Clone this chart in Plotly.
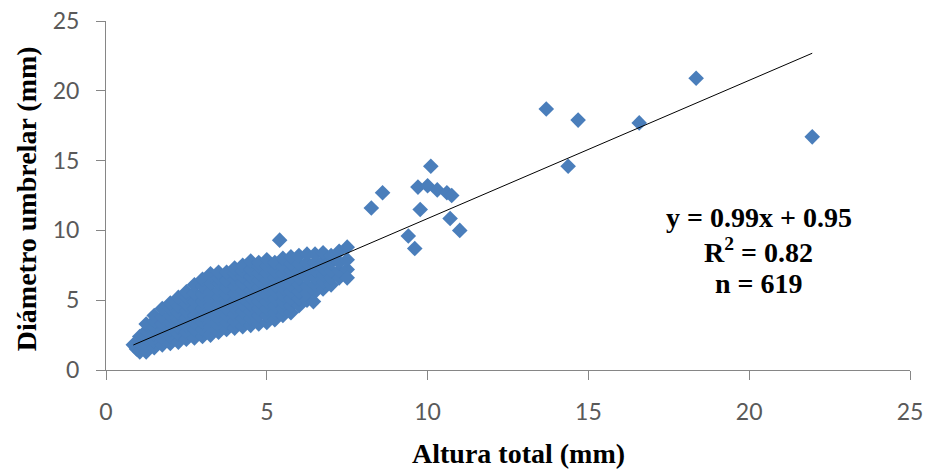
import plotly.graph_objects as go

# Dense cloud (representative points)
cloud_x = [
    0.85, 0.95,
    1.05, 1.05, 1.05,
    1.25, 1.25, 1.25, 1.25, 1.25,
    1.5, 1.5, 1.5, 1.5, 1.5, 1.5,
    1.75, 1.75, 1.75, 1.75, 1.75, 1.75,
    2.0, 2.0, 2.0, 2.0, 2.0, 2.0, 2.0,
    2.25, 2.25, 2.25, 2.25, 2.25, 2.25, 2.25,
    2.5, 2.5, 2.5, 2.5, 2.5, 2.5, 2.5, 2.5,
    2.75, 2.75, 2.75, 2.75, 2.75, 2.75, 2.75, 2.75,
    3.0, 3.0, 3.0, 3.0, 3.0, 3.0, 3.0, 3.0, 3.0,
    3.25, 3.25, 3.25, 3.25, 3.25, 3.25, 3.25, 3.25, 3.25,
    3.5, 3.5, 3.5, 3.5, 3.5, 3.5, 3.5, 3.5, 3.5, 3.5,
    3.75, 3.75, 3.75, 3.75, 3.75, 3.75, 3.75, 3.75, 3.75,
    4.0, 4.0, 4.0, 4.0, 4.0, 4.0, 4.0, 4.0, 4.0, 4.0,
    4.25, 4.25, 4.25, 4.25, 4.25, 4.25, 4.25, 4.25, 4.25, 4.25,
    4.5, 4.5, 4.5, 4.5, 4.5, 4.5, 4.5, 4.5, 4.5, 4.5,
    4.75, 4.75, 4.75, 4.75, 4.75, 4.75, 4.75, 4.75, 4.75, 4.75,
    5.0, 5.0, 5.0, 5.0, 5.0, 5.0, 5.0, 5.0, 5.0, 5.0,
    5.25, 5.25, 5.25, 5.25, 5.25, 5.25, 5.25, 5.25, 5.25,
    5.5, 5.5, 5.5, 5.5, 5.5, 5.5, 5.5, 5.5, 5.5,
    5.75, 5.75, 5.75, 5.75, 5.75, 5.75, 5.75, 5.75, 5.75,
    6.0, 6.0, 6.0, 6.0, 6.0, 6.0, 6.0, 6.0,
    6.25, 6.25, 6.25, 6.25, 6.25, 6.25, 6.25,
    6.5, 6.5, 6.5, 6.5, 6.5, 6.5,
    6.75, 6.75, 6.75, 6.75, 6.75, 6.75,
    7.0, 7.0, 7.0, 7.0, 7.0,
    7.25, 7.25, 7.25, 7.25,
    7.5, 7.5, 7.5,
]
cloud_y = [
    1.8, 1.5,
    1.3, 1.9, 2.4,
    1.3, 1.8, 2.3, 2.8, 3.3,
    1.6, 2.1, 2.6, 3.1, 3.5, 3.9,
    1.8, 2.3, 2.8, 3.3, 3.8, 4.4,
    1.9, 2.4, 2.9, 3.4, 3.9, 4.4, 4.8,
    2.0, 2.6, 3.1, 3.6, 4.1, 4.6, 5.2,
    2.2, 2.7, 3.2, 3.7, 4.2, 4.7, 5.2, 5.6,
    2.3, 2.9, 3.4, 3.9, 4.4, 4.9, 5.5, 6.1,
    2.4, 2.9, 3.4, 3.9, 4.4, 4.9, 5.4, 6.0, 6.5,
    2.5, 3.1, 3.6, 4.1, 4.6, 5.1, 5.6, 6.2, 6.9,
    2.7, 3.2, 3.7, 4.2, 4.7, 5.2, 5.7, 6.2, 6.6, 7.0,
    2.9, 3.4, 3.9, 4.4, 4.9, 5.4, 5.9, 6.4, 7.0,
    3.0, 3.5, 4.0, 4.5, 5.0, 5.5, 6.0, 6.5, 6.9, 7.3,
    3.1, 3.7, 4.2, 4.7, 5.2, 5.7, 6.2, 6.7, 7.1, 7.5,
    3.2, 3.7, 4.2, 4.7, 5.2, 5.7, 6.2, 6.7, 7.2, 7.8,
    3.3, 3.9, 4.4, 4.9, 5.4, 5.9, 6.4, 6.9, 7.4, 7.7,
    3.4, 3.9, 4.4, 4.9, 5.4, 5.9, 6.4, 6.9, 7.4, 7.9,
    3.6, 4.1, 4.6, 5.1, 5.6, 6.1, 6.6, 7.1, 7.7,
    3.9, 4.4, 4.9, 5.4, 5.9, 6.4, 6.9, 7.4, 8.0,
    4.1, 4.6, 5.1, 5.6, 6.1, 6.6, 7.1, 7.6, 8.1,
    4.6, 5.1, 5.6, 6.1, 6.6, 7.1, 7.6, 8.2,
    5.0, 5.5, 6.0, 6.6, 7.2, 7.7, 8.3,
    5.6, 6.1, 6.6, 7.1, 7.7, 8.3,
    5.8, 6.3, 6.8, 7.3, 7.8, 8.4,
    6.1, 6.6, 7.1, 7.7, 8.2,
    6.6, 7.1, 7.7, 8.5,
    7.2, 7.9, 8.8,
]

# Sparse points read individually
outlier_x = [5.4, 6.45, 7.5, 8.25, 8.6, 9.4, 9.6, 9.7, 9.77, 10.0, 10.1, 10.3,
             10.6, 10.75, 10.7, 11.0, 13.69, 14.37, 14.68, 16.58, 18.35, 21.96]
outlier_y = [9.3, 4.9, 6.6, 11.6, 12.7, 9.6, 8.7, 13.1, 11.5, 13.2, 14.6, 12.9,
             12.7, 12.5, 10.85, 10.0, 18.7, 14.6, 17.9, 17.7, 20.9, 16.7]

slope = 0.99
intercept = 0.95
eq_lines = ["y = 0.99x + 0.95", "R<sup>2</sup> = 0.82", "n = 619"]

x_title = "Altura total (mm)"
y_title = "Diámetro umbrelar (mm)"

all_x = cloud_x + outlier_x
all_y = cloud_y + outlier_y
xmin, xmax = min(all_x), max(all_x)

blue = "#4a7ebb"
fig = go.Figure()
fig.add_trace(go.Scatter(
    x=all_x, y=all_y, mode="markers",
    marker=dict(symbol="diamond", size=12, color=blue, line=dict(width=0)),
    showlegend=False, hoverinfo="x+y",
))
fig.add_trace(go.Scatter(
    x=[xmin, xmax], y=[slope * xmin + intercept, slope * xmax + intercept],
    mode="lines", line=dict(color="black", width=1), showlegend=False,
))

tickfont = dict(family="Lato", size=23, color="#595959")
titlefont = dict(family="Liberation Serif", size=28, color="black", weight="bold")
axis_common = dict(
    showline=True, linecolor="#868686", linewidth=1,
    ticks="outside", ticklen=9, tickcolor="#868686", tickwidth=1,
    showgrid=False, zeroline=False, tickfont=tickfont, automargin=False,
)
fig.update_xaxes(range=[0, 25], dtick=5, tick0=0, ticklabelstandoff=12, **axis_common)
fig.update_yaxes(range=[0, 25], dtick=5, tick0=0, ticklabelstandoff=12, **axis_common)

annotations = [
    dict(text=x_title, xref="paper", yref="paper", x=0.513, y=0, yshift=-83,
         showarrow=False, font=titlefont, xanchor="center", yanchor="middle"),
    dict(text=y_title, xref="paper", yref="paper", x=-0.098, y=0.49,
         showarrow=False, font=titlefont, textangle=-90,
         xanchor="center", yanchor="middle"),
]
eq_font = dict(family="Liberation Serif", size=28, color="black", weight="bold")
for i, line in enumerate(eq_lines):
    annotations.append(dict(
        text=line, xref="x", yref="y", x=20.3, y=(370 - 217 - 33 * i) / 13.96,
        showarrow=False, font=eq_font, xanchor="center", yanchor="middle",
    ))

fig.update_layout(
    width=926, height=469,
    margin=dict(l=106, r=16, t=21, b=99),
    paper_bgcolor="white", plot_bgcolor="white",
    annotations=annotations,
)
fig.write_html("out.html")
